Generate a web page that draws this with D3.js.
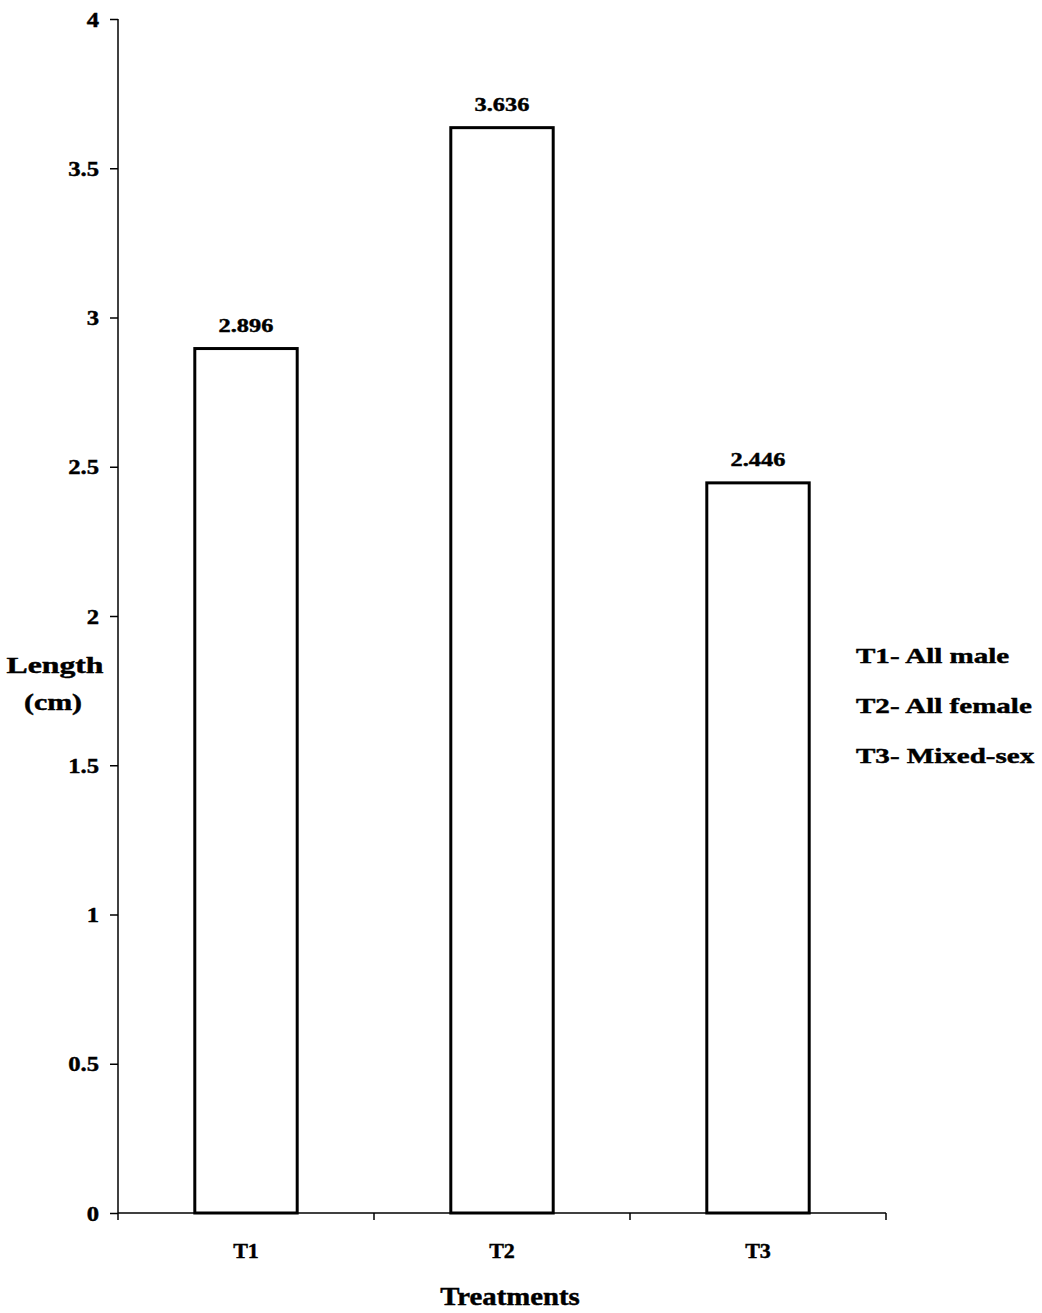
<!DOCTYPE html>
<html>
<head>
<meta charset="utf-8">
<script src="https://cdn.jsdelivr.net/npm/d3@7"></script>
<style>
  body { margin: 0; background: #fff; }
  text { font-family: "Liberation Serif", "Times New Roman", serif; font-weight: bold; fill: #000;
         stroke: #000; stroke-width: 0.45px; }
</style>
</head>
<body>
<svg id="viz" width="1042" height="1313"></svg>
<script>
// Data
var treatments = ["T1", "T2", "T3"];
var lengths = [2.896, 3.636, 2.446];
var yTicks = [0, 0.5, 1, 1.5, 2, 2.5, 3, 3.5, 4];
var legendLines = ["T1- All male", "T2- All female", "T3- Mixed-sex"];

var svg = d3.select("#viz");

// plot area ("top" is taken by window, so other names)
var plotLeft = 118, plotRight = 886, plotTop = 19, plotBottom = 1213;

var x = d3.scaleBand()
    .domain(treatments)
    .range([plotLeft, plotRight])
    .paddingInner(0.6)
    .paddingOuter(0.3);

var y = d3.scaleLinear()
    .domain([0, 4])
    .range([plotBottom, plotTop]);

// the scanned type is wider than Liberation Serif, so stretch it a bit
var wide = function(sel, ratio) {
    sel.each(function() {
        var w = this.getComputedTextLength();
        d3.select(this).attr("textLength", w * ratio).attr("lengthAdjust", "spacingAndGlyphs");
    });
};

// Y axis
var yAxis = svg.append("g")
    .attr("transform", "translate(" + plotLeft + ",0)")
    .call(d3.axisLeft(y).tickValues(yTicks).tickSize(8).tickPadding(11)
        .tickFormat(function(d) { return d; }));
yAxis.selectAll("path, line").attr("stroke", "#000").attr("stroke-width", 1.5);
yAxis.select("path").attr("d", "M0," + plotTop + "V" + plotBottom);
yAxis.selectAll("text")
    .attr("fill", "#000")
    .style("font-size", "22px")
    .style("font-family", "Liberation Serif, serif")
    .style("font-weight", "bold")
    .call(wide, 1.12);

// X axis with ticks at band boundaries
var xAxis = svg.append("g")
    .attr("transform", "translate(0," + plotBottom + ")");
xAxis.append("line")
    .attr("x1", plotLeft).attr("x2", plotRight)
    .attr("stroke", "#000").attr("stroke-width", 1.5);
var step = x.step();
var boundaries = [plotLeft, plotLeft + step, plotLeft + 2 * step, plotRight];
xAxis.selectAll("line.tick")
    .data(boundaries)
    .enter().append("line")
    .attr("class", "tick")
    .attr("x1", d => d).attr("x2", d => d)
    .attr("y1", 0).attr("y2", 7)
    .attr("stroke", "#000").attr("stroke-width", 1.5);
xAxis.selectAll("text")
    .data(treatments)
    .enter().append("text")
    .attr("x", d => x(d) + x.bandwidth() / 2)
    .attr("y", 45)
    .attr("text-anchor", "middle")
    .style("font-size", "22px")
    .text(d => d);

// Bars
svg.append("g")
    .selectAll("rect")
    .data(lengths)
    .enter().append("rect")
    .attr("x", (d, i) => x(treatments[i]))
    .attr("y", d => y(d))
    .attr("width", x.bandwidth())
    .attr("height", d => plotBottom - y(d))
    .attr("fill", "#fff")
    .attr("stroke", "#000")
    .attr("stroke-width", 3);

// Value labels
svg.append("g")
    .selectAll("text")
    .data(lengths)
    .enter().append("text")
    .attr("x", (d, i) => x(treatments[i]) + x.bandwidth() / 2)
    .attr("y", d => y(d) - 17)
    .attr("text-anchor", "middle")
    .style("font-size", "19px")
    .text(d => d.toFixed(3))
    .call(wide, 1.28);

// Axis titles
svg.append("text")
    .attr("x", 55).attr("y", 673)
    .attr("text-anchor", "middle")
    .style("font-size", "23px")
    .text("Length")
    .call(wide, 1.38);
svg.append("text")
    .attr("x", 53).attr("y", 710)
    .attr("text-anchor", "middle")
    .style("font-size", "23px")
    .text("(cm)")
    .call(wide, 1.3);
svg.append("text")
    .attr("x", 510).attr("y", 1305)
    .attr("text-anchor", "middle")
    .style("font-size", "25px")
    .text("Treatments")
    .call(wide, 1.15);

// Legend
svg.append("g")
    .selectAll("text")
    .data(legendLines)
    .enter().append("text")
    .attr("x", 856)
    .attr("y", (d, i) => 663 + i * 50)
    .style("font-size", "22px")
    .text(d => d)
    .call(wide, 1.32);
</script>
</body>
</html>
